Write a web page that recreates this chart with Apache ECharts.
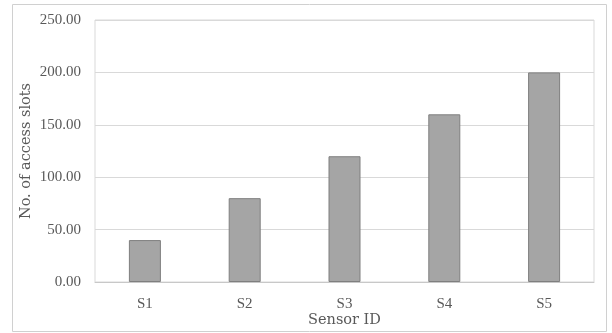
<!DOCTYPE html>
<html><head><meta charset="utf-8">
<script src="https://cdn.jsdelivr.net/npm/echarts@6/dist/echarts.min.js"></script>
<style>html,body{margin:0;padding:0;background:#fff}#c{width:612px;height:333px}</style>
</head><body><div id="c"></div>
<script>
var categories = ['S1','S2','S3','S4','S5'];
var accessSlots = [40, 80, 120, 160, 200];
var yTicks = {min:0, max:250, interval:50};
var FONT = '"Liberation Serif", serif';
var TFONT = '"DejaVu Serif", serif';
var chart = echarts.init(document.getElementById('c'));
chart.setOption({
  animation:false,
  graphic:[{type:'rect', shape:{x:12.5,y:4.5,width:594,height:327}, style:{fill:'none', stroke:'#d0d0d0', lineWidth:1}, silent:true}],
  grid:{left:95, right:18, top:20, bottom:51, show:true, borderColor:'#d9d9d9', borderWidth:1},
  xAxis:{type:'category', data:categories,
    axisLine:{lineStyle:{color:'#c8c8c8'}}, axisTick:{show:false},
    axisLabel:{color:'#595959', fontFamily:FONT, fontSize:15, margin:15},
    name:'Sensor ID', nameLocation:'middle', nameGap:31, nameMoveOverlap:false,
    nameTextStyle:{color:'#595959', fontFamily:TFONT, fontSize:14.5}},
  yAxis:{type:'value', min:yTicks.min, max:yTicks.max, interval:yTicks.interval,
    axisLine:{show:false}, axisTick:{show:false},
    splitLine:{lineStyle:{color:'#d9d9d9'}},
    axisLabel:{color:'#595959', fontFamily:FONT, fontSize:15, margin:14, formatter:function(v){return v.toFixed(2);}},
    name:'No. of access slots', nameLocation:'middle', nameGap:61, nameMoveOverlap:false,
    nameTextStyle:{color:'#595959', fontFamily:TFONT, fontSize:14.5}},
  series:[{type:'bar', data:accessSlots, barWidth:32,
    itemStyle:{color:'#a5a5a5', borderColor:'#7f7f7f', borderWidth:1}}]
});
</script></body></html>
